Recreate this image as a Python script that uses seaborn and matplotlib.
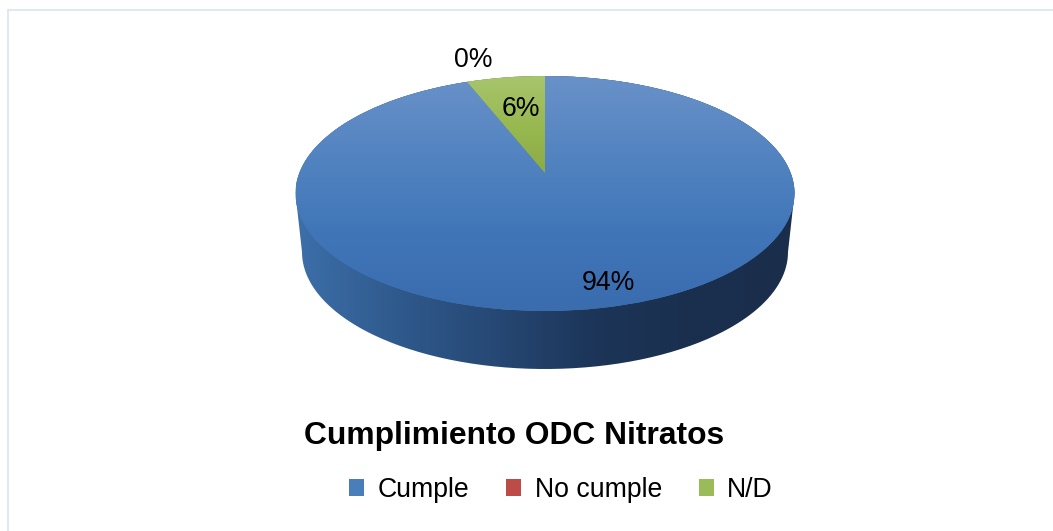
import numpy as np
import matplotlib
matplotlib.use("Agg")
import matplotlib.pyplot as plt
from matplotlib.colors import LinearSegmentedColormap as LSC
from matplotlib.lines import Line2D
from matplotlib.path import Path
from matplotlib.patches import PathPatch
import seaborn as sns

categories = ["Cumple", "No cumple", "N/D"]
values = [94, 0, 6]
colors = ["#4A7EBB", "#BE4B48", "#9BBB59"]
title = "Cumplimiento ODC Nitratos"

sns.set_theme(style="white")
plt.rcParams["font.family"] = ["Liberation Sans", "DejaVu Sans"]

W, H = 1053, 531
fig = plt.figure(figsize=(W / 100, H / 100), dpi=100, facecolor="white")

CX, CY, RX, RY = 545, 193.5, 249.5, 117.5
BCY, BRX, BRY = 252, 243, 117

# pixel-space layer for the pie's side wall
bg = fig.add_axes([0, 0, 1, 1], zorder=0)
bg.set_xlim(0, W); bg.set_ylim(H, 0); bg.axis("off")
t1 = np.linspace(np.pi, 2 * np.pi, 200)
t2 = np.linspace(0, np.pi, 200)
xs = np.r_[CX + RX * np.cos(t1), CX + BRX * np.cos(t2)]
ys = np.r_[CY + RY * np.sin(t1), BCY + BRY * np.sin(t2)]
clip = PathPatch(Path(np.c_[xs, ys]), fc="none", ec="none", transform=bg.transData)
bg.add_patch(clip)
side = LSC.from_list("side", ["#3D6FA9", "#2F5A8D", "#264874", "#1C3558", "#1A2F4E", "#1A2E4C"])
im = bg.imshow(np.linspace(0, 1, 256)[None, :], cmap=side, aspect="auto",
               extent=(CX - RX, CX + RX, BCY + BRY, CY - RY))
im.set_clip_path(clip)
bg.set_xlim(0, W); bg.set_ylim(H, 0)

# pie on an axes that fills the top ellipse
ax = fig.add_axes([(CX - RX) / W, 1 - (CY + RY) / H, 2 * RX / W, 2 * RY / H], zorder=1)
ax.patch.set_alpha(0)
wedges, _, autos = ax.pie(values, colors=colors, startangle=90, counterclock=False,
                          radius=1, autopct="%.0f%%",
                          textprops=dict(fontsize=19.2, color="black"))
ax.set_aspect("auto")
ax.set_xlim(-1, 1); ax.set_ylim(-1, 1)

# perspective tilt of the disc: centre moves up, far side is compressed
P, B, C = 0.174, 0.9697, 0.174
A = np.sqrt(1 - P ** 2)
for w in wedges:
    p = w.get_path()
    v = np.array(p.vertices, dtype=float)
    d = 1 + P * v[:, 1]
    w._path = Path(np.c_[A * v[:, 0] / d, B * v[:, 1] / d + C], p.codes)
    w.set_linewidth(0)

grads = {0: ["#6991C8", "#5384C1", "#4076B8", "#3A6CAE"],
         2: ["#A8C56D", "#98B850", "#8BAA44"]}
ext = {0: (-1, 1, -1, 1), 2: (-0.4, 0.02, 0.15, 1)}
for i, cols in grads.items():
    g = ax.imshow(np.linspace(0, 1, 256)[:, None], cmap=LSC.from_list(f"g{i}", cols),
                  aspect="auto", extent=ext[i], origin="upper", zorder=1.5)
    g.set_clip_path(wedges[i])
ax.set_xlim(-1, 1); ax.set_ylim(-1, 1)
ax.set_aspect("auto")

label_xy = [(0.2525, -0.76), (-0.289, 1.137), (-0.096, 0.72)]
for t, xy in zip(autos, label_xy):
    t.set_position(xy)
    t.set_ha("center"); t.set_va("center")
    t.set_clip_on(False); t.set_zorder(5)

fig.text(514 / W, 1 - 436 / H, title, fontsize=22.9, fontweight="bold",
         ha="center", va="center", color="black")

leg = fig.legend(wedges, categories, loc="center", bbox_to_anchor=(561 / W, 1 - 490 / H),
                 ncols=3, frameon=False, fontsize=19.2, handlelength=0.57, handleheight=0.57,
                 handletextpad=0.5, columnspacing=1.38, labelcolor="black")
for h in leg.legend_handles:
    h.set_linewidth(0)

frame = "#DCE6F2"
fig.add_artist(Line2D([7.5 / W, 7.5 / W], [0, 1 - 9.5 / H], color=frame, lw=1.3))
fig.add_artist(Line2D([7.5 / W, 1], [1 - 9.5 / H, 1 - 9.5 / H], color=frame, lw=1.3))

fig.savefig("out.png", dpi=100, facecolor="white")
